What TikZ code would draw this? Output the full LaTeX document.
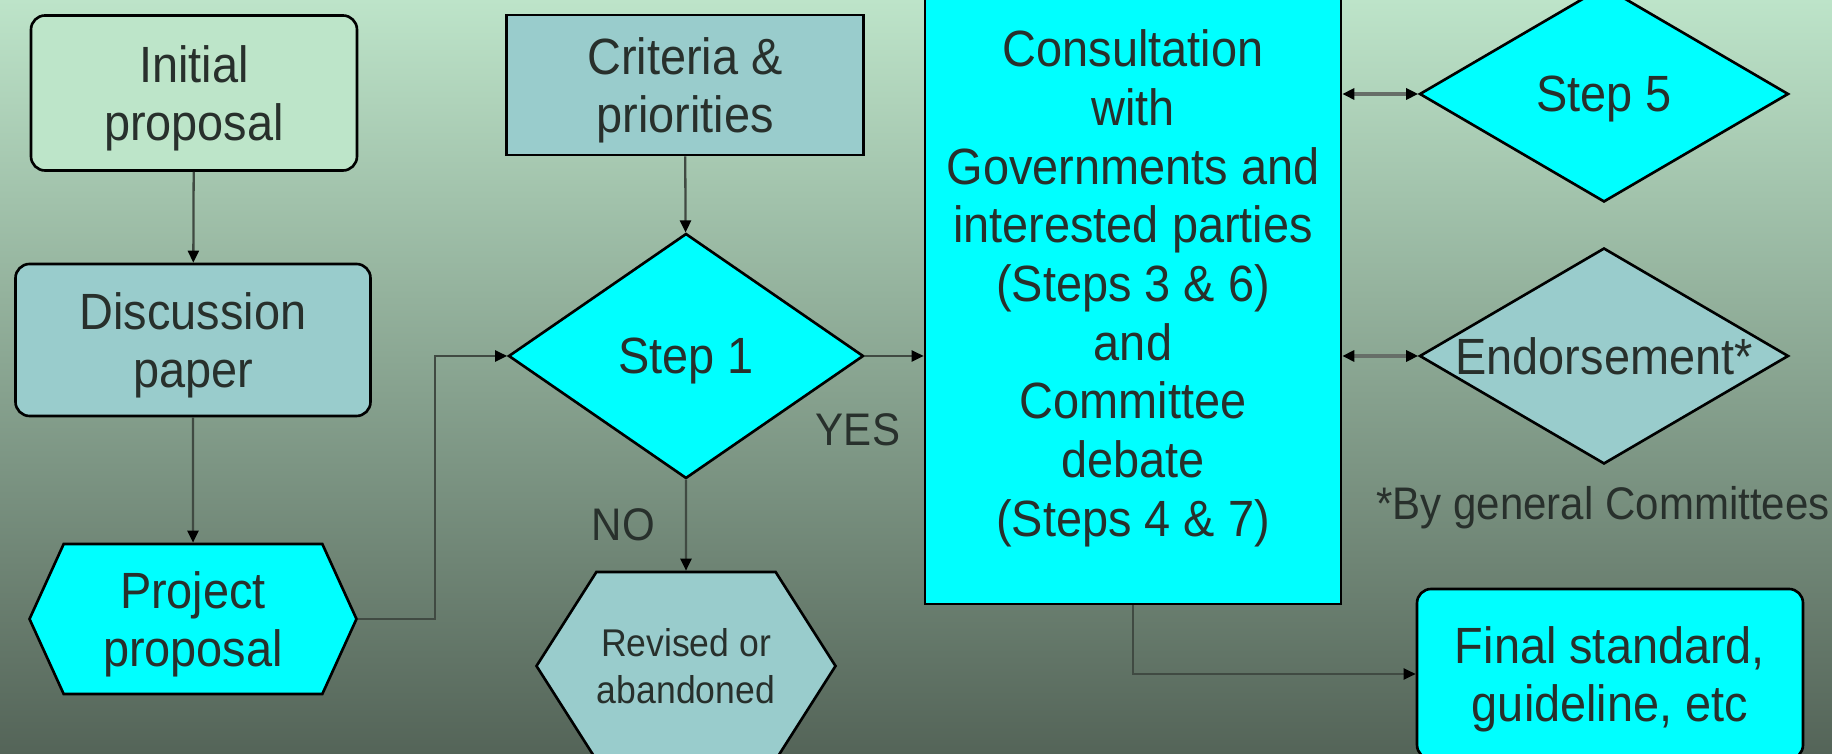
\documentclass[tikz,border=0pt]{standalone}
\usepackage{fontspec}
\setmainfont{Liberation Sans}[FakeStretch=0.92]
\usetikzlibrary{shapes, arrows.meta, positioning}

\definecolor{bgtop}{RGB}{189, 228, 201}
\definecolor{bgmid}{RGB}{150, 178, 155}
\definecolor{bgbottom}{RGB}{84, 100, 88}
\definecolor{palegreen}{RGB}{189, 229, 201}
\definecolor{tealgrey}{RGB}{153, 204, 204}
\definecolor{stepcyan}{RGB}{0, 255, 255}
\definecolor{linegrey}{RGB}{64, 74, 66}
\definecolor{inkgrey}{RGB}{40, 48, 44}

\newcommand{\mainsize}{\fontsize{14.5}{16.5}\selectfont}
\newcommand{\smallsize}{\fontsize{11}{13.3}\selectfont}
\newcommand{\labelsize}{\fontsize{13}{15}\selectfont}

\begin{document}
\begin{tikzpicture}[x=0.1mm, y=-0.1mm,
  box/.style={draw=black, line width=0.75pt, text=inkgrey, align=center, inner sep=0pt, text depth=0pt, font=\mainsize},
  softbox/.style={box, rounded corners=4pt},
  hexbox/.style={box, signal, signal to=west and east},
  decision/.style={box, diamond, fill=stepcyan},
  conn/.style={linegrey, line width=0.65pt, -{Triangle[length=1.2mm, width=1.1mm, color=black]}},
  twoway/.style={linegrey!80, line width=1pt, {Triangle[length=1.2mm, width=1.1mm, color=black]}-{Triangle[length=1.2mm, width=1.1mm, color=black]}},
  lbl/.style={text=inkgrey, font=\labelsize, inner sep=0pt}]

  % background
  \fill[top color=bgtop, middle color=bgmid, bottom color=bgbottom] (0,0) rectangle (1832,754);
  \clip (0,0) rectangle (1832,754);

  % left column
  \node[softbox, fill=palegreen, minimum width=32.6mm, minimum height=15.5mm] (init) at (194, 93) {Initial\\proposal};
  \node[softbox, fill=tealgrey, minimum width=35.5mm, minimum height=15.2mm] (disc) at (193, 340) {Discussion\\paper};
  \node[hexbox, fill=stepcyan, signal pointer angle=131, minimum width=32.7mm, minimum height=15mm] (proj) at (193, 619) {Project\\proposal};

  % step 1
  \node[box, fill=tealgrey, minimum width=35.7mm, minimum height=14mm] (crit) at (685, 85) {Criteria \&\\priorities};
  \node[decision, aspect=1.45, minimum width=35.5mm, minimum height=24.5mm] (step1) at (686, 356) {Step 1};
  \node[hexbox, fill=tealgrey, font=\smallsize, signal pointer angle=115, minimum width=29.9mm, minimum height=18.8mm] (revised) at (686, 666) {Revised or\\abandoned};
  \node[lbl] (yes) at (858, 430) {YES};

  % consultation
  \node[box, fill=stepcyan, font=\fontsize{14.5}{16.7}\selectfont, minimum width=41.6mm, minimum height=64.2mm] (consult) at (1133, 283) {Consultation\\with\\Governments and\\interested parties\\(Steps 3 \& 6)\\and\\Committee\\debate\\(Steps 4 \& 7)};

  % right column
  \node[decision, aspect=1.7, minimum width=36.9mm, minimum height=21.6mm] (step5) at (1604, 94) {Step 5};
  \node[decision, fill=tealgrey, aspect=1.7, minimum width=36.9mm, minimum height=21.6mm] (endorse) at (1604, 356) {\makebox[0pt]{Endorsement*}};
  \node[lbl] (note) at (1603, 508) {*By general Committees};
  \node[softbox, fill=stepcyan, minimum width=38.6mm, minimum height=17mm] (final) at (1610, 674) {Final standard,\\guideline, etc};

  % connectors
  \draw[conn] (init) -- (disc);
  \draw[conn] (disc) -- (proj);
  \draw[conn] (proj.east) -- ++(77, 0) |- (step1.west);
  \draw[conn] (crit) -- (step1);
  \draw[conn] (step1.east) -- (consult.west |- step1.east);
  \draw[conn] (step1) -- node[lbl, left=3mm] (no) {NO} (revised);
  \draw[twoway] (consult.east |- step5.west) -- (step5.west);
  \draw[twoway] (consult.east |- endorse.west) -- (endorse.west);
  \draw[conn] (consult.south) |- (final.west);
\end{tikzpicture}
\end{document}
